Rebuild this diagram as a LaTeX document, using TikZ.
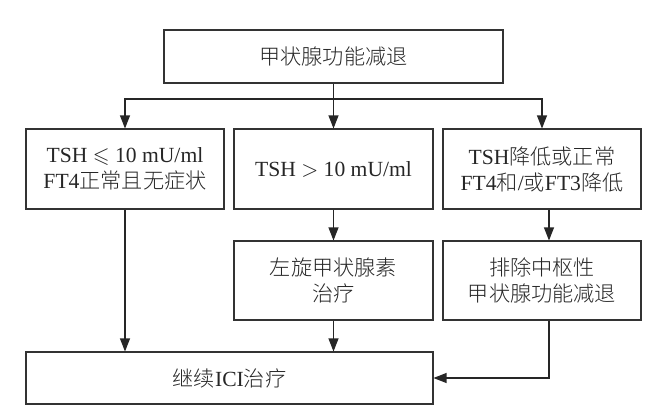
\documentclass[tikz,border=0pt]{standalone}
\usepackage{amssymb}
\usepackage{fontspec}
\setmainfont{Liberation Serif}
\newfontfamily\cjk[Scale=0.98,UprightFont={* Light}]{Noto Sans CJK SC}
\usetikzlibrary{arrows.meta}
\begin{document}
\begin{tikzpicture}[x=0.5pt,y=-0.5pt,
  box/.style={draw=black!80,line width=0.55pt,align=center,inner sep=0pt,
    font=\fontsize{10.8}{13}\selectfont,text=black!85},
  arr/.style={draw=black!85,line width=0.55pt,-{Triangle[length=6.5pt,width=5pt]}}]
  \useasboundingbox (0,0) rectangle (661,418);
  \node[box,minimum width=169.5pt,minimum height=26.5pt] (hypo) at (333.5,56.5) {\cjk 甲状腺功能减退};
  \node[box,minimum width=99pt,minimum height=40pt] (low) at (125,169) {TSH $\leqslant$ 10 mU/ml\\FT4{\cjk 正常且无症状}};
  \node[box,minimum width=99.5pt,minimum height=40pt] (high) at (333.5,169) {TSH $>$ 10 mU/ml};
  \node[box,minimum width=99pt,minimum height=40pt] (cent) at (542,169) {TSH{\cjk 降低或正常}\\FT4{\cjk 和}/{\cjk 或}FT3{\cjk 降低}};
  \node[box,minimum width=99.5pt,minimum height=39.5pt] (levo) at (333.5,280.5) {{\cjk 左旋甲状腺素}\\{\cjk 治疗}};
  \node[box,minimum width=99pt,minimum height=39.5pt] (excl) at (542,280.5) {{\cjk 排除中枢性}\\{\cjk 甲状腺功能减退}};
  \node[box,minimum width=203.5pt,minimum height=26pt] (ici) at (229.5,378) {{\cjk 继续}ICI{\cjk 治疗}};
  \coordinate (split) at (333.5,99);
  \draw[draw=black!85,line width=0.55pt] (hypo) -- (split);
  \draw[arr] (split) -| (low);
  \draw[arr] (split) -- (high);
  \draw[arr] (split) -| (cent);
  \draw[arr] (low) -- (low |- ici.north);
  \draw[arr] (high) -- (levo);
  \draw[arr] (levo) -- (levo |- ici.north);
  \draw[arr] ([xshift=3.5pt]cent.south) -- ([xshift=3.5pt]excl.north);
  \draw[arr] ([xshift=3.5pt]excl.south) |- (ici.east);
\end{tikzpicture}
\end{document}
